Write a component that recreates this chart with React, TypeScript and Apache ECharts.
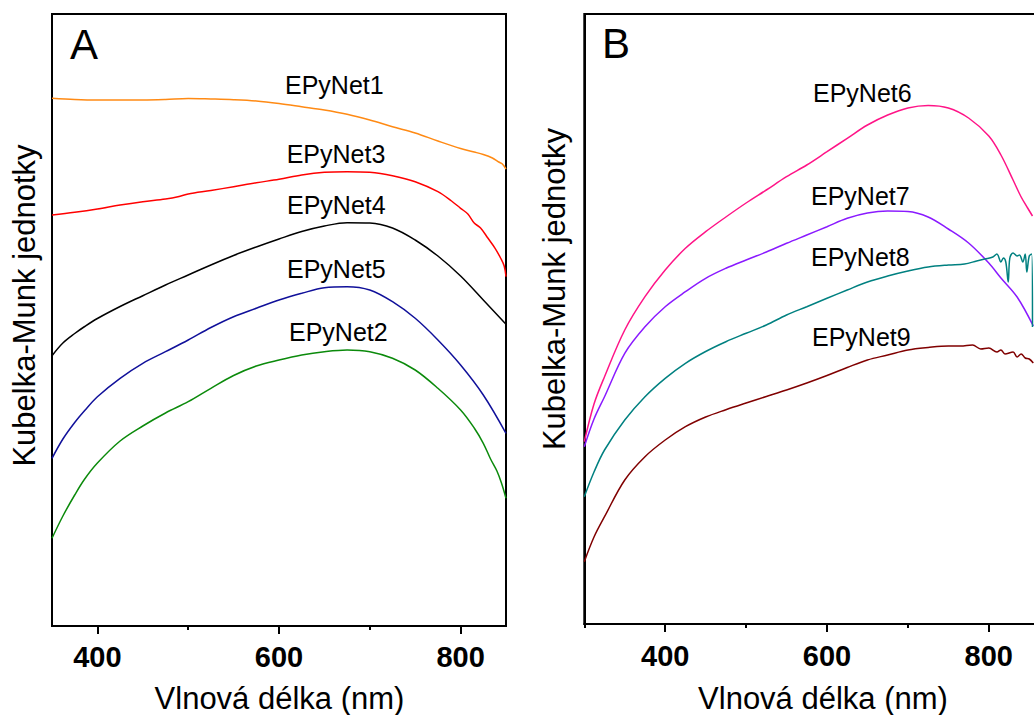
import React, { useEffect, useRef } from "react";
import * as echarts from "echarts";

// ---------- Panel A data (wavelength nm, Kubelka-Munk arbitrary units) ----------
const ep1X = [350, 375, 400, 425, 450, 475, 500, 525, 550, 575, 600, 625, 650, 675, 700, 725, 750, 775, 800, 815, 825, 835, 842, 846, 850];
const ep1Y = [527.7, 526.5, 526, 526, 526, 526.5, 527.5, 527, 526.3, 525, 522.5, 519.3, 516, 511.7, 506, 499.3, 493, 485, 477.5, 474, 471.5, 468, 464, 462, 457];

const ep3X = [350, 375, 400, 425, 450, 475, 490, 500, 525, 550, 575, 600, 625, 650, 675, 700, 725, 750, 775, 790, 800, 808, 815, 822, 830, 838, 844, 848, 850];
const ep3Y = [411, 413.7, 417, 421, 424.3, 427, 429.5, 432, 435.5, 439.3, 443.3, 446.7, 451, 453.7, 454.3, 453.7, 450.3, 444.3, 434.3, 425, 417.7, 412, 403, 398, 388, 377.7, 368, 360, 349.3];

const ep4X = [350, 362, 375, 386, 400, 425, 450, 475, 500, 525, 550, 575, 600, 625, 650, 675, 700, 725, 750, 775, 800, 825, 850];
const ep4Y = [270.3, 283, 292.5, 299.5, 307.5, 319.5, 330.3, 341, 351, 361, 370.5, 379, 387, 394.5, 400, 403.3, 403, 398, 386, 370, 350, 326, 301.7];

const ep5X = [350, 362, 375, 386, 400, 425, 450, 475, 500, 525, 550, 575, 600, 625, 650, 675, 700, 725, 750, 775, 800, 825, 850];
const ep5Y = [167.7, 187, 203.5, 215.5, 229.3, 247.7, 262.7, 274.3, 286, 298.5, 309.3, 317.7, 326, 332.7, 338.3, 339.3, 336, 324.3, 307.7, 286, 261, 231, 192.7];

const ep2X = [350, 362, 375, 386, 400, 425, 450, 475, 500, 525, 550, 575, 600, 625, 650, 675, 700, 725, 750, 775, 800, 815, 825, 833, 840, 845, 850];
const ep2Y = [87.7, 110, 131, 147, 163, 185, 200, 213, 224.3, 237.7, 250.5, 260, 266, 271, 274.3, 276, 274.3, 267.7, 256, 237.7, 216, 198, 182.7, 167, 155, 143, 127.7];

// ---------- Panel B data ----------
const ep6X = [300, 312, 325, 350, 375, 400, 425, 450, 475, 500, 525, 550, 575, 600, 625, 650, 675, 700, 725, 750, 775, 800, 815, 830, 840, 848, 854];
const ep6Y = [182.3, 220, 247.3, 294, 327.3, 354, 375.7, 392.3, 407, 421, 434, 447.3, 459, 472.3, 485.7, 499, 509, 516, 518.5, 516, 506, 488, 469, 444, 427, 416, 408];

const ep7X = [300, 312, 325, 350, 375, 400, 425, 450, 475, 500, 525, 550, 575, 600, 625, 650, 675, 700, 725, 750, 775, 800, 815, 835, 855];
const ep7Y = [177.3, 205, 227.3, 270.7, 297.3, 317.3, 332.3, 345.7, 355.7, 364, 372, 380.7, 389, 397.3, 405.7, 411, 413, 412.5, 407, 395, 381, 361, 346, 327, 298];

const ep8X = [300, 312, 325, 350, 375, 400, 425, 450, 475, 500, 525, 550, 575, 600, 625, 650, 675, 700, 725, 750, 770, 785, 795, 805, 810, 815, 818, 821, 824, 826, 830, 835, 838, 842, 845, 847, 850, 853, 854];
const ep8Y = [127.3, 152, 174, 204, 227.3, 245.7, 260.7, 272.5, 282.3, 290.7, 299, 309, 317.3, 325.7, 334, 342, 348, 353, 357, 359, 360, 363, 365, 367, 370, 362, 366, 362, 342, 366, 371, 368, 369, 362, 370, 352, 368, 370, 297];

const ep9X = [300, 312, 325, 350, 375, 400, 425, 450, 475, 500, 525, 550, 575, 600, 625, 650, 675, 700, 725, 750, 765, 780, 790, 800, 810, 815, 820, 830, 835, 840, 845, 850, 855];
const ep9Y = [62.3, 87, 107.3, 144, 167.3, 184, 197.3, 207, 214.3, 221, 227.5, 234, 241, 248.5, 256.5, 264, 269, 274, 276.5, 278, 278, 279, 275, 276, 272, 274, 270, 272, 267, 270, 266, 265, 261];

// ---------- ticks & texts ----------
const majorTicks = [400, 600, 800];
const minorTicksA = [500, 700];
const minorTicksB = [300, 500, 700, 900];
const xTitle = "Vlnová délka (nm)";
const yTitle = "Kubelka-Munk jednotky";

const FONT = "'Liberation Sans', Arial, Helvetica, sans-serif";

function pairs(x: number[], y: number[]) {
  return x.map((v, i) => [v, y[i]]);
}

export default function App() {
  const ref = useRef<HTMLDivElement>(null);

  useEffect(() => {
    if (!ref.current) return;
    const chart = echarts.init(ref.current, null, { renderer: "svg" });

    const axisLine = { show: true, onZero: false, lineStyle: { color: "#000", width: 2 } };
    const majorX = (gridIndex: number, min: number, max: number, margin: number) => ({
      type: "value",
      gridIndex,
      min,
      max,
      position: "bottom",
      axisLine,
      axisTick: { show: true, inside: false, length: 8, customValues: majorTicks, lineStyle: { color: "#000", width: 2 } },
      axisLabel: {
        show: true,
        customValues: majorTicks,
        margin,
        color: "#000",
        fontSize: 29,
        fontWeight: "bold",
        fontFamily: FONT,
      },
      splitLine: { show: false },
    });
    const minorX = (gridIndex: number, min: number, max: number, vals: number[]) => ({
      type: "value",
      gridIndex,
      min,
      max,
      position: "bottom",
      axisLine: { show: false, onZero: false },
      axisTick: { show: true, inside: false, length: 4, customValues: vals, lineStyle: { color: "#000", width: 2 } },
      axisLabel: { show: false },
      splitLine: { show: false },
    });
    const yAx = (gridIndex: number, max: number) => ({
      type: "value",
      gridIndex,
      min: 0,
      max,
      axisLine,
      axisTick: { show: false },
      axisLabel: { show: false },
      splitLine: { show: false },
    });

    const line = (name: string, x: number[], y: number[], color: string, xi: number, yi: number) => ({
      name,
      type: "line",
      xAxisIndex: xi,
      yAxisIndex: yi,
      data: pairs(x, y),
      showSymbol: false,
      symbol: "none",
      smooth: 0.35,
      lineStyle: { color, width: 1.5 },
      itemStyle: { color },
      z: 2,
    });

    const txt = (text: string, x: number, y: number, size: number, extra: any = {}) => ({
      type: "text",
      x,
      y,
      z: 10,
      ...extra,
      style: {
        text,
        x: 0,
        y: 0,
        fill: "#000",
        fontSize: size,
        fontFamily: FONT,
        align: extra.alignH || "left",
        textAlign: extra.alignH || "left",
        verticalAlign: "middle",
        textVerticalAlign: "middle",
      },
    });

    const option: any = {
      animation: false,
      backgroundColor: "#fff",
      grid: [
        { left: 52, top: 14, width: 454, height: 612, show: true, borderColor: "#000", borderWidth: 2, backgroundColor: "transparent" },
        { left: 584.3, top: 14, width: 485.4, height: 610, show: true, borderColor: "#000", borderWidth: 2, backgroundColor: "transparent" },
      ],
      xAxis: [
        majorX(0, 350, 850, 16),
        minorX(0, 350, 850, minorTicksA),
        majorX(1, 300, 900, 17),
        minorX(1, 300, 900, minorTicksB),
      ],
      yAxis: [yAx(0, 612), yAx(1, 610)],
      series: [
        line("EPyNet1", ep1X, ep1Y, "#ff8a14", 0, 0),
        line("EPyNet3", ep3X, ep3Y, "#ff0000", 0, 0),
        line("EPyNet4", ep4X, ep4Y, "#000000", 0, 0),
        line("EPyNet5", ep5X, ep5Y, "#10109a", 0, 0),
        line("EPyNet2", ep2X, ep2Y, "#0b8a0b", 0, 0),
        line("EPyNet6", ep6X, ep6Y, "#ff1487", 2, 1),
        line("EPyNet7", ep7X, ep7Y, "#8a1aff", 2, 1),
        line("EPyNet8", ep8X, ep8Y, "#008080", 2, 1),
        line("EPyNet9", ep9X, ep9Y, "#800000", 2, 1),
      ],
      graphic: [
        txt("A", 70, 44.4, 42),
        txt("B", 602, 43.4, 42),
        txt("EPyNet1", 285, 85.3, 25),
        txt("EPyNet3", 286.7, 154.3, 25),
        txt("EPyNet4", 287, 205.3, 25),
        txt("EPyNet5", 287, 269.3, 25),
        txt("EPyNet2", 289, 332.3, 25),
        txt("EPyNet6", 813, 93.3, 25),
        txt("EPyNet7", 811, 196.3, 25),
        txt("EPyNet8", 811, 257.3, 25),
        txt("EPyNet9", 812, 337.3, 25),
        txt(xTitle, 279.5, 698, 31, { alignH: "center" }),
        txt(xTitle, 823, 698, 31, { alignH: "center" }),
        txt(yTitle, 24.8, 305.5, 31, { alignH: "center", rotation: Math.PI / 2 }),
        txt(yTitle, 554, 289, 31, { alignH: "center", rotation: Math.PI / 2 }),
      ],
    };

    chart.setOption(option);
    return () => chart.dispose();
  }, []);

  return (
    <div
      style={{
        position: "fixed",
        left: 0,
        top: 0,
        width: 1034,
        height: 715,
        overflow: "hidden",
        background: "#fff",
      }}
    >
      <div ref={ref} style={{ width: 1100, height: 715 }} />
    </div>
  );
}
